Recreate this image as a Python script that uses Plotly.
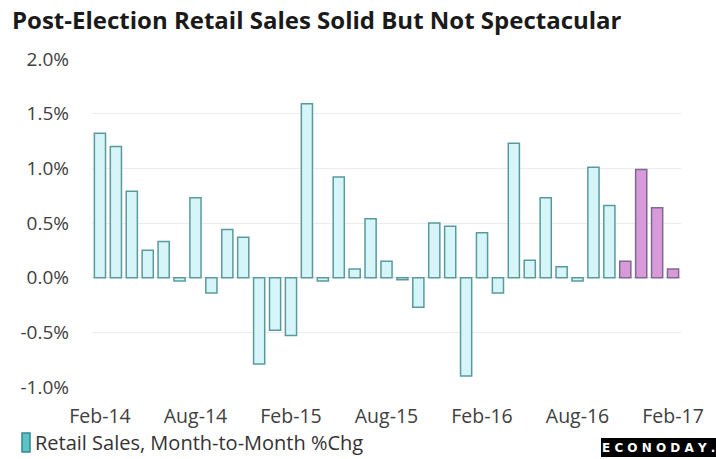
import plotly.graph_objects as go

months = ["Feb-14","Mar-14","Apr-14","May-14","Jun-14","Jul-14","Aug-14","Sep-14","Oct-14","Nov-14","Dec-14","Jan-15",
          "Feb-15","Mar-15","Apr-15","May-15","Jun-15","Jul-15","Aug-15","Sep-15","Oct-15","Nov-15","Dec-15","Jan-16",
          "Feb-16","Mar-16","Apr-16","May-16","Jun-16","Jul-16","Aug-16","Sep-16","Oct-16","Nov-16","Dec-16","Jan-17","Feb-17"]
values = [1.32, 1.20, 0.79, 0.25, 0.33, -0.03, 0.73, -0.14, 0.44, 0.37, -0.79, -0.48,
          -0.53, 1.59, -0.03, 0.92, 0.08, 0.54, 0.15, -0.02, -0.27, 0.50, 0.47, -0.90,
          0.41, -0.14, 1.23, 0.16, 0.73, 0.10, -0.03, 1.01, 0.66, 0.15, 0.99, 0.64, 0.08]
post_election = ["Nov-16", "Dec-16", "Jan-17", "Feb-17"]
tick_labels = ["Feb-14", "Aug-14", "Feb-15", "Aug-15", "Feb-16", "Aug-16", "Feb-17"]
y_ticks = [-1.0, -0.5, 0.0, 0.5, 1.0, 1.5, 2.0]

fill = ["#d99ad9" if m in post_election else "#d6f5f8" for m in months]
line = ["#7d6a93" if m in post_election else "#5a9a9c" for m in months]

W, H = 716, 459
fig = go.Figure()
fig.add_trace(go.Bar(
    x=months, y=values,
    marker=dict(color=fill, line=dict(color=line, width=1.5)),
    showlegend=False, hoverinfo="skip",
))

fig.update_layout(
    width=W, height=H,
    margin=dict(l=92, r=35, t=59, b=72),
    paper_bgcolor="white", plot_bgcolor="white",
    bargap=0.3,
    font=dict(family="Open Sans, sans-serif", color="#404040"),
    title=dict(text="<b>Post-Election Retail Sales Solid But Not Spectacular</b>",
               x=12 / W, xanchor="left", y=1 - 21 / H, yanchor="middle",
               font=dict(size=24, color="#1a1a1a", family="Open Sans, sans-serif")),
    xaxis=dict(type="category", tickmode="array", tickvals=tick_labels, ticktext=tick_labels,
               showgrid=False, showline=False, ticks="", tickfont=dict(size=19.5, color="#404040"),
               range=[-0.5, 36.5], tickangle=0, ticklabelstandoff=15),
    yaxis=dict(range=[-1.0, 2.0], tickvals=y_ticks, ticktext=[f"{v:.1f}%" for v in y_ticks],
               showgrid=True, gridcolor="#ececec", gridwidth=1,
               zeroline=True, zerolinecolor="#d8e6e6", zerolinewidth=1,
               tickfont=dict(size=19, color="#404040"), ticks="", ticklabelstandoff=22),
)

def px(x):
    return (x - 92) / (W - 92 - 35)
def py(y):
    return (H - 72 - y) / (H - 59 - 72)

fig.add_shape(type="rect", xref="paper", yref="paper",
              x0=px(22), x1=px(30), y0=py(452), y1=py(433),
              fillcolor="#5ec3c9", line=dict(color="#2f8a8f", width=1.5))
fig.add_annotation(text="Retail Sales, Month-to-Month %Chg", xref="paper", yref="paper",
                   x=px(33), y=py(442), xanchor="left", yanchor="middle", showarrow=False,
                   font=dict(size=20, color="#333333"))
fig.add_shape(type="rect", xref="paper", yref="paper",
              x0=px(601), x1=px(716), y0=py(457), y1=py(438),
              fillcolor="#000000", line=dict(width=0))
fig.add_annotation(text="<b>E C O N O D A Y .</b>", xref="paper", yref="paper",
                   x=px(658), y=py(447.5), xanchor="center", yanchor="middle", showarrow=False,
                   font=dict(size=12, color="white", family="DejaVu Sans"))

fig.write_html("out.html", config={"displayModeBar": False},
               post_script="document.body.style.margin='0';")
